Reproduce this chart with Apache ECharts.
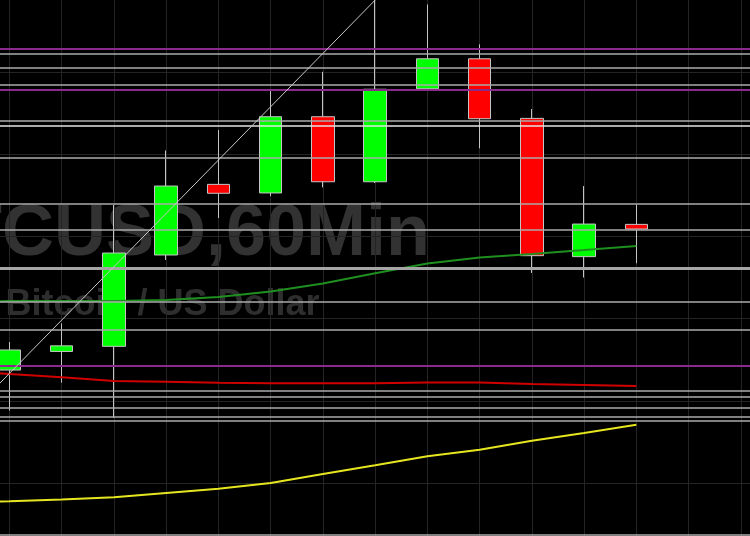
<!DOCTYPE html>
<html>
<head>
<meta charset="utf-8">
<script src="https://cdn.jsdelivr.net/npm/echarts@6/dist/echarts.min.js"></script>
<style>
html,body{margin:0;padding:0;background:#000;}
#chart{width:750px;height:536px;}
</style>
</head>
<body>
<div id="chart"></div>
<script>
// ---- data ----
const barIndex = [0, 1, 2, 3, 4, 5, 6, 7, 8, 9, 10, 11, 12];
const opens  = [9568.8, 9580.1, 9583.2, 9638.7, 9681.6, 9676.4, 9722.7, 9683.2, 9739.7, 9757.9, 9721.7, 9637.7, 9657.3];
const closes = [9581.0, 9583.5, 9639.9, 9680.6, 9676.2, 9722.7, 9683.2, 9739.4, 9757.9, 9721.5, 9638.3, 9657.5, 9654.5];
const lows   = [9544.2, 9561.2, 9539.7, 9635.7, 9661.2, 9674.5, 9679.8, 9682.4, 9739.5, 9703.5, 9627.8, 9625.0, 9633.7];
const highs  = [9585.8, 9597.1, 9669.1, 9702.2, 9714.6, 9738.5, 9750.0, 9796.6, 9790.9, 9766.7, 9727.4, 9680.6, 9669.1];

const maIndex  = [-1, 0, 1, 2, 3, 4, 5, 6, 7, 8, 9, 10, 11, 12];
const maGreen  = [9610.4, 9610.7, 9610.7, 9610.7, 9611.4, 9613.2, 9616.5, 9621.4, 9627.6, 9633.5, 9637.2, 9639.3, 9641.7, 9644.2];
const maRed    = [9568.5, 9566.4, 9564.4, 9562.1, 9561.7, 9561.1, 9560.8, 9560.8, 9560.8, 9561.2, 9561.2, 9560.3, 9559.7, 9559.1];
const maYellow = [9488.3, 9489.1, 9490.2, 9491.5, 9494.1, 9496.7, 9500.2, 9505.6, 9510.9, 9516.4, 9520.4, 9525.9, 9530.6, 9535.6];

const trendIndex = [-1, 8];
const trendPrice = [9534.4, 9826.0];

const grayLevels   = [9760.8, 9752.3, 9742.2, 9720.3, 9698.0, 9669.7, 9654.3, 9610.6, 9593.3, 9556.3, 9552.6, 9545.6, 9540.3, 9538.0, 9469.0];
const whiteLevels  = [9717.5];
const thickLevels  = [9630.6];
const purpleLevels = [9764.3, 9739.1, 9571.3];

const symbolText = 'BTCUSD,60Min';
const descText = 'Bitcoin / US Dollar';

// ---- build ----
const candleData = barIndex.map((x, i) => [x, opens[i], closes[i], lows[i], highs[i]]);
const pairs = (xs, ys) => xs.map((x, i) => [x, ys[i]]);

const levelLines = []
  .concat(grayLevels.map(v => ({ yAxis: v, lineStyle: { color: '#ababab', width: 1.6, type: 'solid' } })))
  .concat(thickLevels.map(v => ({ yAxis: v, lineStyle: { color: '#a6a6a6', width: 3, type: 'solid' } })))
  .concat(whiteLevels.map(v => ({ yAxis: v, lineStyle: { color: '#e4e4e4', width: 1.6, type: 'solid' } })))
  .concat(purpleLevels.map(v => ({ yAxis: v, lineStyle: { color: '#8a2a8a', width: 2, type: 'solid' } })));

const chart = echarts.init(document.getElementById('chart'), null, { renderer: 'canvas' });
chart.setOption({
  backgroundColor: '#000000',
  animation: false,
  grid: { left: -42.74, right: -43.1, top: -10.5, bottom: -29.6, outerBoundsMode: 'none', containLabel: false },
  xAxis: {
    type: 'value', min: -1, max: 15, interval: 1,
    axisLine: { show: false }, axisTick: { show: false }, axisLabel: { show: false },
    splitLine: { show: true, lineStyle: { color: '#242424', width: 1 } }
  },
  yAxis: {
    type: 'value', min: 9450, max: 9800, interval: 50,
    axisLine: { show: false }, axisTick: { show: false }, axisLabel: { show: false },
    splitLine: { show: true, lineStyle: { color: '#242424', width: 1 } }
  },
  graphic: [
    { type: 'text', z: 0, silent: true, x: 430, y: 235,
      style: { text: symbolText, fill: '#323232', font: 'bold 72px "Liberation Sans", Arial, sans-serif', align: 'right', verticalAlign: 'middle' } },
    { type: 'text', z: 0, silent: true, x: 5.5, y: 305,
      style: { text: descText, fill: '#2e2e2e', font: 'bold 36px "Liberation Sans", Arial, sans-serif', align: 'left', verticalAlign: 'middle' } }
  ],
  series: [
    {
      type: 'line', z: 1, data: [], silent: true,
      markLine: { silent: true, symbol: ['none', 'none'], label: { show: false }, animation: false,
        emphasis: { disabled: true }, data: levelLines }
    },
    {
      type: 'candlestick', z: 3, silent: true, clip: false,
      barWidth: 23,
      data: candleData,
      itemStyle: { color: '#00ff00', color0: '#ff0000', borderColor: '#c4c4c4', borderColor0: '#c4c4c4', borderWidth: 1 }
    },
    { type: 'line', z: 4, silent: true, symbol: 'none', data: pairs(maIndex, maGreen), lineStyle: { color: '#1f8f1f', width: 2 } },
    { type: 'line', z: 4, silent: true, symbol: 'none', data: pairs(maIndex, maRed), lineStyle: { color: '#d00000', width: 2 } },
    { type: 'line', z: 4, silent: true, symbol: 'none', data: pairs(maIndex, maYellow), lineStyle: { color: '#e6e620', width: 2 } },
    { type: 'line', z: 5, silent: true, symbol: 'none', data: pairs(trendIndex, trendPrice), lineStyle: { color: '#c8c8c8', width: 1 } }
  ]
});
</script>
</body>
</html>
